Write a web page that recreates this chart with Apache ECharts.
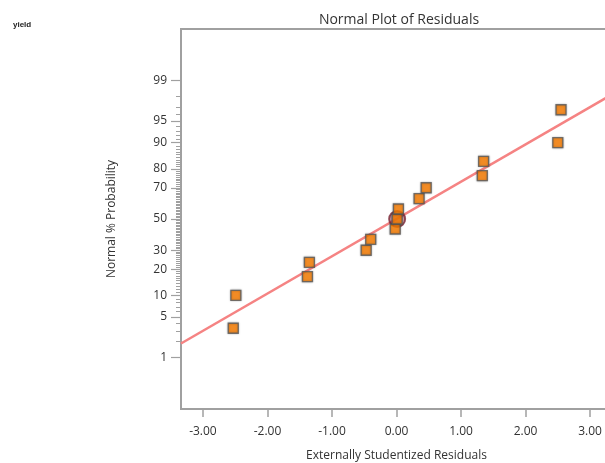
<!DOCTYPE html>
<html>
<head>
<meta charset="utf-8">
<script src="https://cdn.jsdelivr.net/npm/echarts@6/dist/echarts.min.js"></script>
<style>html,body{margin:0;padding:0;background:#fff;}#c{width:605px;height:463px;}</style>
</head>
<body>
<div id="c"></div>
<script>
// ---- data ----
var residuals = [-2.53, -2.49, -1.38, -1.35, -0.47, -0.40, -0.02, 0.01, 0.03, 0.35, 0.46, 1.33, 1.35, 2.50, 2.55];
var probabilities = [3.33, 10, 16.67, 23.33, 30, 36.67, 43.33, 50, 56.67, 63.33, 70, 76.67, 83.33, 90, 96.67];
var highlightIndex = [7];
var lineX = [-3.34, 3.34];
var lineProb = [1.83, 98.17];
var yMajorTicks = [1, 5, 10, 20, 30, 50, 70, 80, 90, 95, 99];
var yMinorTicks = [];
for (var k = 1; k <= 99; k++) { if (yMajorTicks.indexOf(k) < 0) yMinorTicks.push(k); }
var xTicks = [-3, -2, -1, 0, 1, 2, 3];

// inverse normal CDF (probit scale transform)
function probit(pct) {
  var p = pct / 100;
  var a = [-3.969683028665376e+01, 2.209460984245205e+02, -2.759285104469687e+02, 1.383577518672690e+02, -3.066479806614716e+01, 2.506628277459239e+00];
  var b = [-5.447609879822406e+01, 1.615858368580409e+02, -1.556989798598866e+02, 6.680131188771972e+01, -1.328068155288572e+01];
  var c = [-7.784894002430293e-03, -3.223964580411365e-01, -2.400758277161838e+00, -2.549732539343734e+00, 4.374664141464968e+00, 2.938163982698783e+00];
  var d = [7.784695709041462e-03, 3.224671290700398e-01, 2.445134137142996e+00, 3.754408661907416e+00];
  var pl = 0.02425, q, r;
  if (p < pl) {
    q = Math.sqrt(-2 * Math.log(p));
    return (((((c[0]*q+c[1])*q+c[2])*q+c[3])*q+c[4])*q+c[5]) / ((((d[0]*q+d[1])*q+d[2])*q+d[3])*q+1);
  } else if (p <= 1 - pl) {
    q = p - 0.5; r = q*q;
    return (((((a[0]*r+a[1])*r+a[2])*r+a[3])*r+a[4])*r+a[5])*q / (((((b[0]*r+b[1])*r+b[2])*r+b[3])*r+b[4])*r+1);
  } else {
    q = Math.sqrt(-2 * Math.log(1 - p));
    return -(((((c[0]*q+c[1])*q+c[2])*q+c[3])*q+c[4])*q+c[5]) / ((((d[0]*q+d[1])*q+d[2])*q+d[3])*q+1);
  }
}

var majorZ = yMajorTicks.map(probit);
var minorZ = yMinorTicks.map(probit);
var pts = residuals.map(function (x, i) { return [x, probit(probabilities[i])]; });
var hl = highlightIndex.map(function (i) { return pts[i]; });
var linePts = lineX.map(function (x, i) { return [x, probit(lineProb[i])]; });

var FONT = '"Open Sans", "Noto Sans", sans-serif';
var AX = '#a0a0a0';
var chart = echarts.init(document.getElementById('c'), null, { renderer: 'canvas' });
chart.setOption({
  animation: false,
  backgroundColor: '#fff',
  title: [
    { text: 'Normal Plot of Residuals', left: 394, top: 8, textAlign: 'center',
      textStyle: { fontFamily: FONT, fontSize: 14, fontWeight: 'normal', color: '#333' } },
    { text: 'yield', left: 8, top: 16,
      textStyle: { fontFamily: 'Liberation Sans, Arial, sans-serif', fontSize: 8, fontWeight: 'bold', color: '#222' } }
  ],
  grid: { left: 181, top: 29, right: -7, bottom: 54, show: true, borderColor: AX, borderWidth: 2,
    backgroundColor: 'transparent', containLabel: false, outerBoundsMode: 'none' },
  xAxis: {
    type: 'value', min: -3.34, max: 3.34,
    name: 'Externally Studentized Residuals', nameLocation: 'middle', nameGap: 41,
    nameTextStyle: { fontFamily: FONT, fontSize: 12, color: '#333' },
    axisLine: { show: true, onZero: false, lineStyle: { color: AX, width: 2 } },
    axisTick: { show: true, customValues: xTicks, length: 8, lineStyle: { color: AX, width: 1.5 } },
    axisLabel: { customValues: xTicks, margin: 17, fontFamily: FONT, fontSize: 12, color: '#333',
      formatter: function (v) { return v.toFixed(2); } },
    splitLine: { show: false }
  },
  yAxis: [
    {
      type: 'value', min: -3.19, max: 3.19,
      name: 'Normal % Probability', nameLocation: 'middle', nameGap: 63,
      nameTextStyle: { fontFamily: FONT, fontSize: 12, color: '#333' },
      axisLine: { show: true, onZero: false, lineStyle: { color: AX, width: 2 } },
      axisTick: { show: true, customValues: majorZ, length: 10, lineStyle: { color: AX, width: 1.2 } },
      axisLabel: { customValues: majorZ, margin: 14, fontFamily: FONT, fontSize: 12, color: '#333',
        formatter: function (v) {
          var best = 0, bd = 1e9;
          majorZ.forEach(function (z, i) { var dd = Math.abs(z - v); if (dd < bd) { bd = dd; best = i; } });
          return String(yMajorTicks[best]);
        } },
      splitLine: { show: false }
    },
    {
      type: 'value', min: -3.19, max: 3.19, position: 'left',
      axisLine: { show: false, onZero: false },
      axisTick: { show: true, customValues: minorZ, length: 5, lineStyle: { color: AX, width: 1 } },
      axisLabel: { show: false },
      splitLine: { show: false }
    }
  ],
  series: [
    { type: 'line', data: linePts, showSymbol: false, symbol: 'none', clip: true,
      lineStyle: { color: '#f58383', width: 2.5 }, z: 2 },
    { type: 'scatter', data: hl, symbol: 'circle', symbolSize: 16, z: 3,
      itemStyle: { color: 'rgba(150,50,70,0.55)', borderColor: '#7a2535', borderWidth: 2 } },
    { type: 'scatter', data: pts, symbol: 'rect', symbolSize: 10, z: 4,
      itemStyle: { color: '#ff8000', borderColor: '#5a5a5a', borderWidth: 1.3,
        shadowBlur: 2, shadowColor: 'rgba(0,0,0,0.35)' } }
  ]
});
</script>
</body>
</html>
